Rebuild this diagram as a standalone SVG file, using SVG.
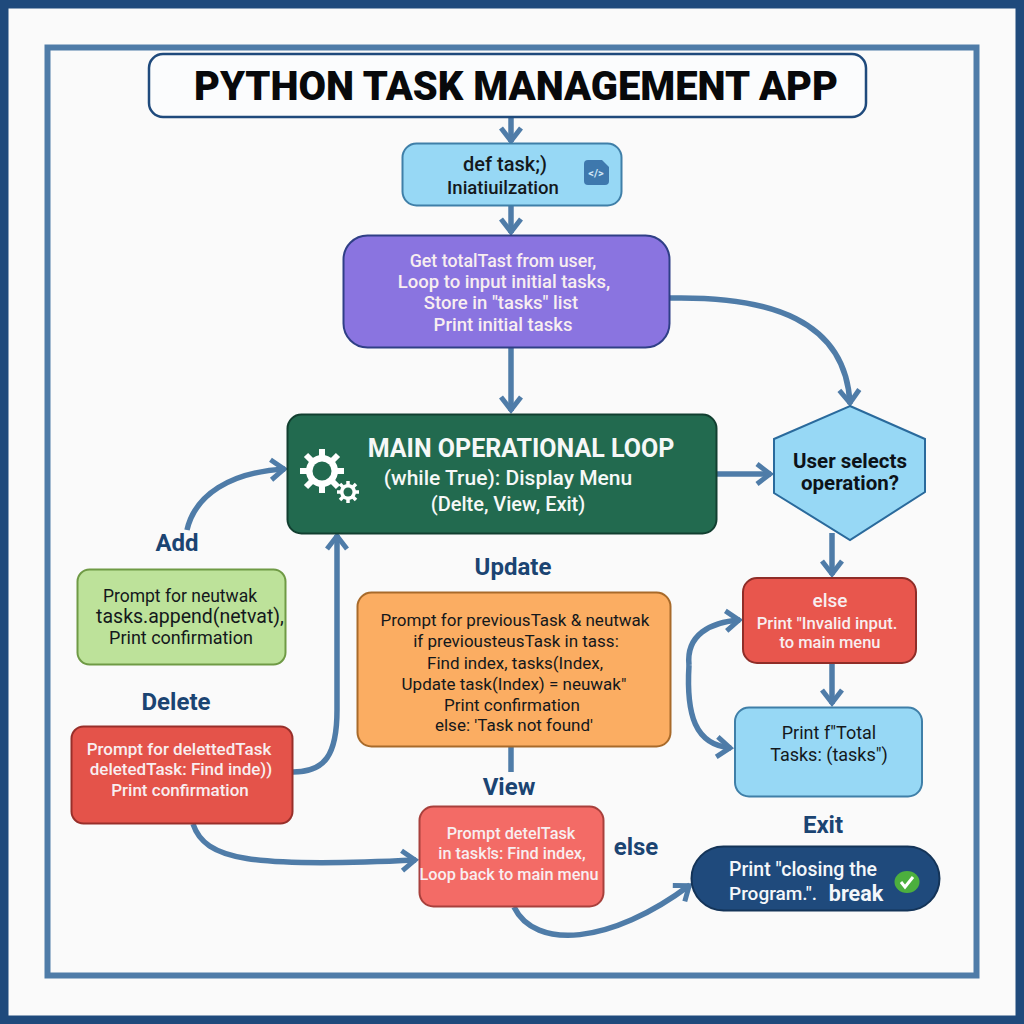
<svg xmlns="http://www.w3.org/2000/svg" width="1024" height="1024" viewBox="0 0 1024 1024">
<defs>
<marker id="arr" markerUnits="userSpaceOnUse" markerWidth="24" markerHeight="28" refX="19" refY="14" orient="auto"><path d="M5 4 L18 14 L5 24" fill="none" stroke="#4f7ca8" stroke-width="5"/></marker>
</defs>
<style>
text{font-family:Roboto,"Liberation Sans",sans-serif;text-anchor:middle}
.w{fill:#f8eef0;font-size:18px;font-weight:500}
.k{fill:#14181c;font-size:18px;font-weight:400}
.l{fill:#1b4472;font-size:24px;font-weight:700}
.c{fill:none;stroke:#4f7ca8;stroke-width:5.500;marker-end:url(#arr)}
.n{fill:none;stroke:#4f7ca8;stroke-width:5.500}
.s{font-size:18.500px}
.u{font-size:17px}
.d{font-size:17px}
.v{font-size:16.300px}
</style>
<rect width="1024" height="1024" fill="#fafafa"/>
<rect x="4" y="4" width="1016" height="1016" fill="none" stroke="#1f4a7c" stroke-width="9"/>
<rect x="47.500" y="47.500" width="929" height="928" fill="none" stroke="#4f7ca8" stroke-width="6"/>
<g id="connectors">
<path class="c" d="M511 116V142"/>
<path class="c" d="M511 205V233"/>
<path class="c" d="M511 347V411"/>
<path class="c" d="M670 298C770 296 846 320 850 404"/>
<path class="c" d="M717 474H771"/>
<path class="c" d="M832 533V575"/>
<path class="c" d="M832 662V704"/>
<path class="c" d="M187 530C195 495 230 472 285 469"/>
<path class="c" d="M293 772C325 772 337 755 337 710V535"/>
<path class="c" d="M193 824C205 860 250 868 416 860"/>
<path class="n" d="M511 747V772"/>
<path class="c" d="M514 907C535 950 610 945 690 885"/>
<path class="c" d="M689 665C686 635 710 622 740 620"/>
<path class="c" d="M689 665C686 715 695 745 731 748"/>
</g>
<g id="title"><rect x="149" y="54" width="717" height="63" rx="14" fill="#fbfcfd" stroke="#1f4a7c" stroke-width="2.500"/><text x="516" y="100" font-size="40" font-weight="900" fill="#08090b" textLength="644" lengthAdjust="spacingAndGlyphs">PYTHON TASK MANAGEMENT APP</text></g>
<g id="init"><rect x="402.500" y="143.500" width="219" height="62" rx="14" fill="#97d8f5" stroke="#3f7fa8" stroke-width="2"/><text class="k" x="505" y="171" style="font-size:20px;font-weight:500">def task;)</text><text class="k" x="503" y="194" style="font-size:18.500px;font-weight:500">Iniatiuilzation</text><path d="M584 164a4 4 0 0 1 4-4h14l7 7v14a4 4 0 0 1-4 4h-17a4 4 0 0 1-4-4z" fill="#3e78ad"/><text x="596" y="177" font-size="11" font-weight="700" fill="#cfe6f6">&lt;/&gt;</text></g>
<g id="setup"><rect x="343.500" y="235.500" width="326" height="112" rx="24" fill="#8a74e0" stroke="#2f3f86" stroke-width="2"/><text class="w s" x="503" y="267" style="font-size:17.800px">Get totalTast from user,</text><text class="w s" x="504" y="288">Loop to input initial tasks,</text><text class="w s" x="501" y="309">Store in "tasks" list</text><text class="w s" x="503" y="331">Print initial tasks</text></g>
<g id="loop"><rect x="287.500" y="414.500" width="429" height="119" rx="14" fill="#226a4f" stroke="#123f30" stroke-width="2"/>
<g fill="#fff"><circle cx="322" cy="471" r="16"/><g stroke="#fff" stroke-width="6"><path d="M322 449V493M300 471H344M306 455L338 487M338 455L306 487"/></g><circle cx="322" cy="471" r="9.500" fill="#226a4f"/><circle cx="348" cy="492" r="8"/><g stroke="#fff" stroke-width="3.500"><path d="M348 481V503M337 492H359M340 484L356 500M356 484L340 500"/></g><circle cx="348" cy="492" r="4.500" fill="#226a4f"/></g>
<text x="521" y="457" font-size="25" font-weight="700" fill="#f6f8f7">MAIN OPERATIONAL LOOP</text><text x="508" y="485" font-size="21" font-weight="500" fill="#f6f8f7">(while True): Display Menu</text><text x="508" y="511" font-size="20" font-weight="500" fill="#f6f8f7">(Delte, View, Exit)</text></g>
<g id="decision"><polygon points="850,406 925,439 925,492 850,540 774,493 774,439" fill="#97d8f5" stroke="#2a6a9c" stroke-width="2"/><text x="850" y="468" font-size="20.500" font-weight="700" fill="#0c1218">User selects</text><text x="850" y="490" font-size="20.500" font-weight="700" fill="#0c1218">operation?</text></g>
<g id="add"><rect x="77.500" y="569.500" width="208" height="95" rx="12" fill="#bde29a" stroke="#6f9a45" stroke-width="2"/><text class="k" x="180" y="602" style="font-size:17.500px">Prompt for neutwak</text><text class="k" x="190" y="623" style="font-size:19.500px">tasks.append(netvat),</text><text class="k" x="181" y="644">Print confirmation</text></g>
<text class="l" x="177" y="551">Add</text>
<text class="l" x="176" y="710">Delete</text>
<g id="delete"><rect x="71.500" y="726.500" width="221" height="97" rx="12" fill="#e4534a" stroke="#982f2a" stroke-width="2"/><text class="w d" x="179" y="755">Prompt for delettedTask</text><text class="w d" x="181" y="775">deletedTask: Find inde))</text><text class="w d" x="180" y="796">Print confirmation</text></g>
<text class="l" x="513" y="575">Update</text>
<g id="update"><rect x="357.500" y="592.500" width="313" height="154" rx="14" fill="#fbad62" stroke="#a86a2a" stroke-width="2"/><text class="k u" x="515" y="626">Prompt for previousTask &amp; neutwak</text><text class="k u" x="516" y="647">if previousteusTask in tass:</text><text class="k u" x="515" y="669">Find index, tasks(Index,</text><text class="k u" x="514" y="690">Update task(Index) = neuwak"</text><text class="k u" x="512" y="711">Print confirmation</text><text class="k u" x="514" y="731">else: 'Task not found'</text></g>
<text class="l" x="509" y="795">View</text>
<g id="view"><rect x="419.500" y="806.500" width="184" height="100" rx="14" fill="#f36b66" stroke="#a8403c" stroke-width="2"/><text class="w v" x="511" y="839">Prompt detelTask</text><text class="w v" x="512" y="859">in taskꝉs: Find index,</text><text class="w v" x="509" y="880">Loop back to main menu</text></g>
<text class="l" x="636" y="855">else</text>
<g id="else"><rect x="743" y="578" width="173" height="85" rx="14" fill="#e8564d" stroke="#8f2d28" stroke-width="2"/><text class="w" x="830" y="607" style="font-size:19px">else</text><text class="w" x="827" y="629" style="font-size:16.700px">Print "Invalid input.</text><text class="w" x="830" y="648" style="font-size:16.500px">to main menu</text></g>
<g id="total"><rect x="735" y="707.500" width="187" height="89" rx="14" fill="#97d8f5" stroke="#3f7fa8" stroke-width="2"/><text class="k" x="829" y="739">Print f"Total</text><text class="k" x="829" y="761">Tasks: (tasks")</text></g>
<text class="l" x="823" y="833">Exit</text>
<g id="exit"><rect x="691.500" y="846.500" width="248" height="64" rx="32" fill="#1f4a7c" stroke="#143458" stroke-width="2"/><text x="803" y="876" font-size="19.500" font-weight="500" fill="#f4f7fa">Print "closing the</text><text x="773" y="900" font-size="19" font-weight="500" fill="#f4f7fa">Program.".</text><text x="856" y="901" font-size="21.500" font-weight="700" fill="#f4f7fa">break</text><ellipse cx="907" cy="882" rx="12.500" ry="11" fill="#4caf3e"/><path d="M901 882L905 887L913 877" fill="none" stroke="#fff" stroke-width="3"/></g>
</svg>
